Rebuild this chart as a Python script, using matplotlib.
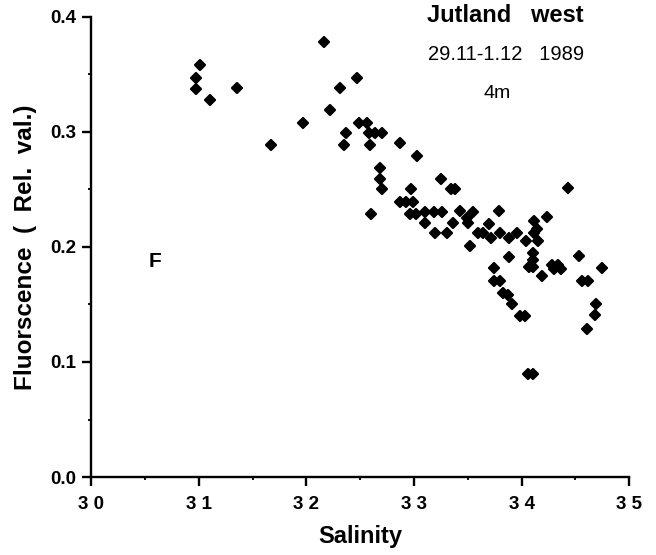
import matplotlib
matplotlib.use("Agg")
import matplotlib.pyplot as plt
from matplotlib.markers import MarkerStyle

# salinity / fluorescence pairs
salinity = [
    31.01, 30.97, 30.97, 31.10, 31.36, 31.67, 31.97, 32.16, 32.22, 32.31,
    32.47, 32.49, 32.56, 32.37, 32.35, 32.58, 32.64, 32.70, 32.59, 32.87,
    33.03, 32.68, 32.68, 32.70, 32.60, 33.25, 32.97, 33.34, 33.38, 32.87,
    32.93, 32.99, 32.96, 33.02, 33.10, 33.19, 33.26, 33.10, 33.20, 33.31,
    33.36, 33.43, 33.49, 33.55, 33.50, 33.60, 33.64, 33.52, 33.70, 33.79,
    33.72, 33.80, 33.88, 33.96, 34.12, 34.24, 34.14, 34.12, 34.04, 34.15,
    33.88, 34.11, 34.11, 34.07, 34.11, 34.28, 34.34, 34.37, 34.30, 34.19,
    34.53, 34.75, 33.74, 33.74, 33.80, 34.56, 34.62, 33.83, 33.87, 33.91,
    33.99, 34.03, 34.69, 34.68, 34.61, 34.06, 34.11, 34.43,
]
fluor = [
    0.358, 0.347, 0.337, 0.328, 0.338, 0.289, 0.308, 0.378, 0.319, 0.338,
    0.347, 0.308, 0.308, 0.299, 0.289, 0.299, 0.299, 0.299, 0.289, 0.290,
    0.279, 0.269, 0.259, 0.250, 0.229, 0.259, 0.250, 0.250, 0.250, 0.239,
    0.239, 0.239, 0.229, 0.229, 0.230, 0.230, 0.230, 0.221, 0.212, 0.212,
    0.221, 0.231, 0.225, 0.230, 0.221, 0.212, 0.212, 0.201, 0.220, 0.231,
    0.208, 0.212, 0.208, 0.212, 0.223, 0.226, 0.216, 0.212, 0.205, 0.205,
    0.191, 0.195, 0.189, 0.183, 0.183, 0.184, 0.184, 0.181, 0.181, 0.175,
    0.192, 0.182, 0.182, 0.170, 0.170, 0.170, 0.170, 0.160, 0.158, 0.150,
    0.140, 0.140, 0.150, 0.141, 0.129, 0.090, 0.090, 0.251,
]

x_ticks = [30, 31, 32, 33, 34, 35]
x_labels = ["3 0", "3 1", "3 2", "3 3", "3 4", "3 5"]
y_ticks = [0.0, 0.1, 0.2, 0.3, 0.4]

plt.rcParams["font.family"] = ["Liberation Sans", "DejaVu Sans"]

fig = plt.figure(figsize=(6.56, 5.55), dpi=100)
ax = fig.add_axes([0.139, 0.1405, 0.820, 0.829])

# rounded diamonds, like the blotchy print dots
ax.plot(salinity, fluor, linestyle="none",
        marker=MarkerStyle("D", joinstyle="round"), markersize=5.6,
        color="black", markeredgewidth=1.6)

ax.set_xlim(30, 35)
ax.set_ylim(0, 0.4)
ax.set_xticks(x_ticks)
ax.set_xticklabels(x_labels, fontsize=13.5, fontweight="bold")
ax.set_xticks([30.5, 31.5, 32.5, 33.5, 34.5], minor=True)
ax.set_yticks(y_ticks)
ax.set_yticklabels([f"{v:.1f}" for v in y_ticks], fontsize=13.5, fontweight="bold")
ax.set_yticks([0.05, 0.15, 0.25, 0.35], minor=True)

for side in ["top", "right"]:
    ax.spines[side].set_visible(False)
for side in ["left", "bottom"]:
    ax.spines[side].set_linewidth(1.7)
ax.tick_params(which="major", length=6.5, width=1.7, direction="out")
ax.tick_params(which="minor", length=2.5, width=1.3, direction="out")
ax.tick_params(axis="x", which="major", pad=7)
ax.tick_params(axis="y", which="major", pad=4)

ax.set_xlabel("Salinity", fontsize=17, fontweight="bold")
ax.xaxis.label.set_va("center")
ax.xaxis.set_label_coords(0.5, -0.130)
ax.set_ylabel("Fluorscence  (  Rel.  val.)", fontsize=17.5, fontweight="bold")
ax.yaxis.label.set_va("center")
ax.yaxis.set_label_coords(-0.123, 0.5)

ax.text(30.59, 0.187, "F", fontsize=15, fontweight="bold", ha="center", va="center")

fig.text(505 / 656, 1 - 16 / 555, "Jutland   west", fontsize=17, fontweight="bold",
         ha="center", va="center")
fig.text(506 / 656, 1 - 55 / 555, "29.11-1.12   1989", fontsize=14.5,
         ha="center", va="center")
fig.text(497 / 656, 1 - 94 / 555, "4m", fontsize=14, ha="center", va="center")

fig.savefig("out.png", dpi=100)
